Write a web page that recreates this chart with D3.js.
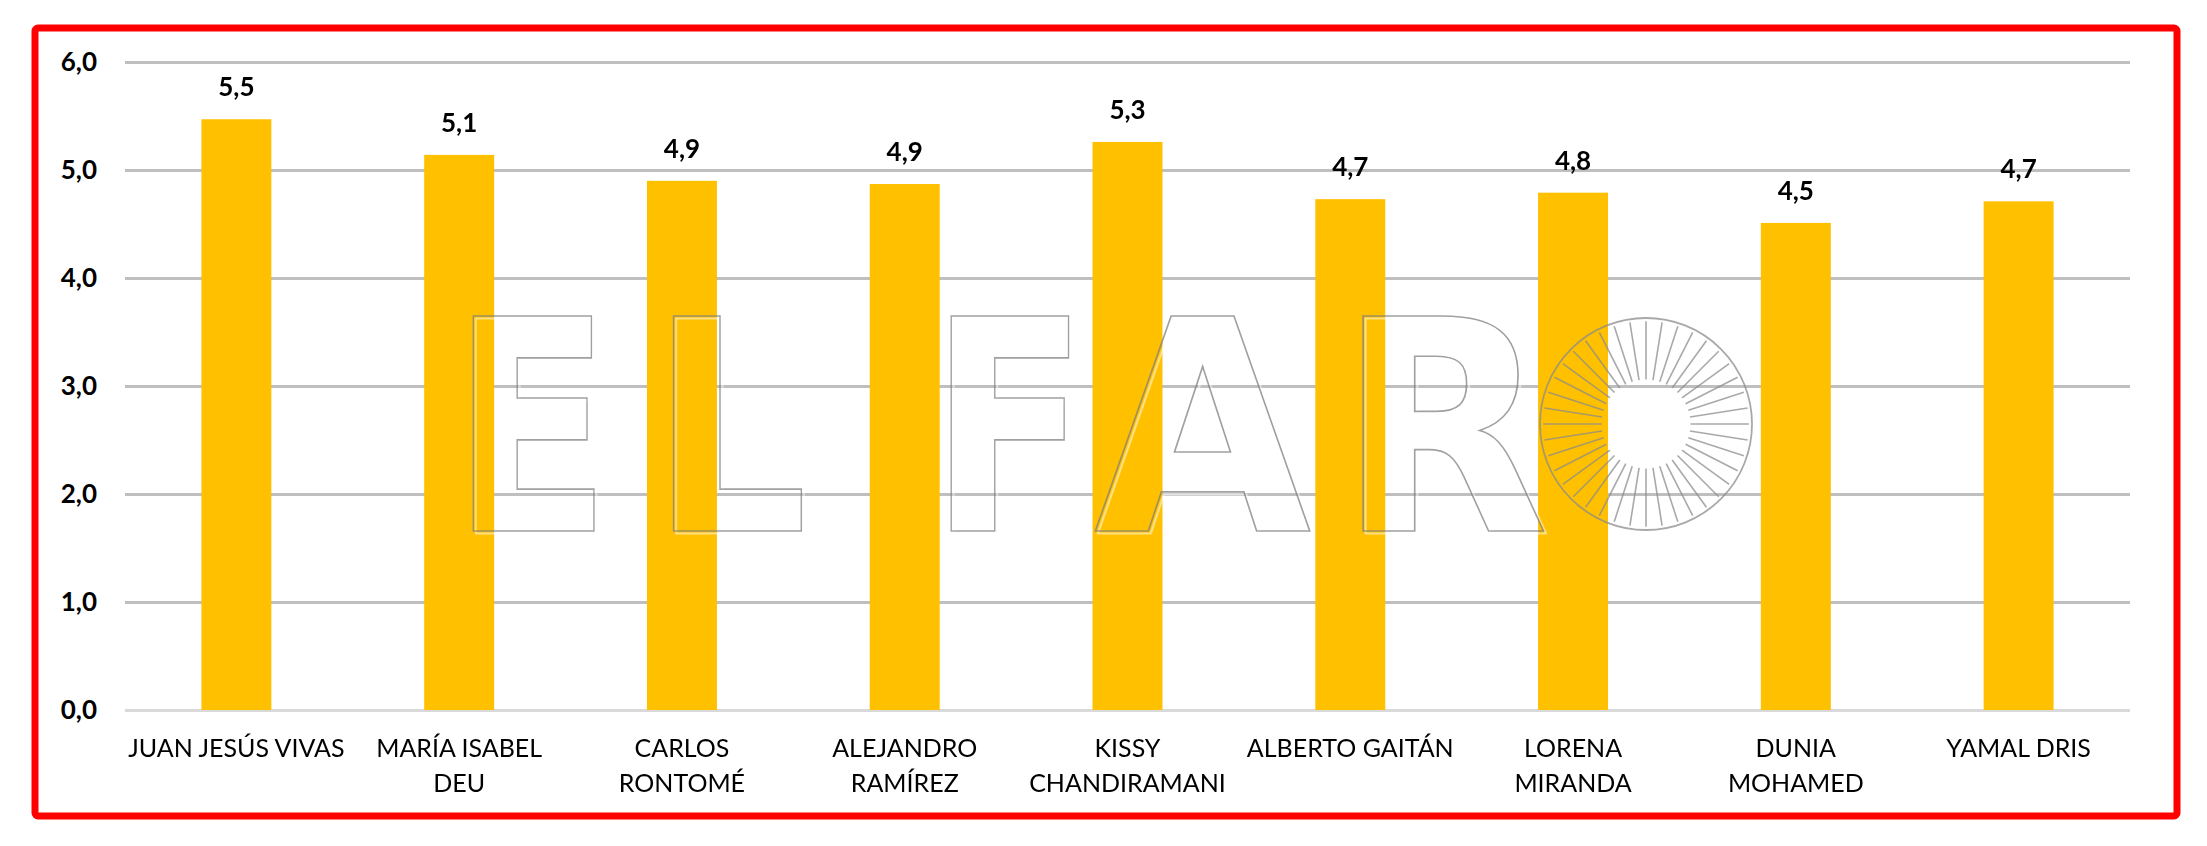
<!DOCTYPE html>
<html>
<head>
<meta charset="utf-8">
<script src="https://cdn.jsdelivr.net/npm/d3@7"></script>
<style>
  html, body { margin: 0; padding: 0; background: #ffffff; }
  svg { display: block; }
</style>
</head>
<body>
<svg id="chart" width="2207" height="846"></svg>
<script>
// ---- data ----
const categories = [
  "JUAN JESÚS VIVAS",
  "MARÍA ISABEL DEU",
  "CARLOS RONTOMÉ",
  "ALEJANDRO RAMÍREZ",
  "KISSY CHANDIRAMANI",
  "ALBERTO GAITÁN",
  "LORENA MIRANDA",
  "DUNIA MOHAMED",
  "YAMAL DRIS"
];
const categoryLines = [
  ["JUAN JESÚS VIVAS"],
  ["MARÍA ISABEL", "DEU"],
  ["CARLOS", "RONTOMÉ"],
  ["ALEJANDRO", "RAMÍREZ"],
  ["KISSY", "CHANDIRAMANI"],
  ["ALBERTO GAITÁN"],
  ["LORENA", "MIRANDA"],
  ["DUNIA", "MOHAMED"],
  ["YAMAL DRIS"]
];
const values = [5.47, 5.14, 4.90, 4.87, 5.26, 4.73, 4.79, 4.51, 4.71];
const yTicks = [0, 1, 2, 3, 4, 5, 6];
const watermarkLetters = ["E", "L", "F", "A", "R"];

// ---- layout ----
const W = 2207, H = 846;
const plotLeft = 125, plotRight = 2130, plotTop = 62, plotBottom = 710;
const svg = d3.select("#chart");
svg.append("rect").attr("width", W).attr("height", H).attr("fill", "#ffffff");

const defs = svg.append("defs");
const flt = defs.append("filter").attr("id", "wmshadow")
  .attr("x", "-5%").attr("y", "-5%").attr("width", "110%").attr("height", "110%");
flt.append("feDropShadow").attr("dx", 2.5).attr("dy", 2.5).attr("stdDeviation", 0.6)
  .attr("flood-color", "#ffffff").attr("flood-opacity", 0.9);

const locale = d3.formatLocale({ decimal: ",", thousands: ".", grouping: [3], currency: ["", "€"] });
const fmt = locale.format(".1f");

const x = d3.scaleBand().domain(categories).range([plotLeft, plotRight])
  .paddingInner(0.686).paddingOuter(0.343);
const y = d3.scaleLinear().domain([0, 6]).range([plotBottom, plotTop]);

// gridlines + y axis labels
const yAxis = d3.axisLeft(y).tickValues(yTicks).tickFormat(fmt)
  .tickSize(-(plotRight - plotLeft)).tickPadding(28);
const gy = svg.append("g").attr("transform", `translate(${plotLeft},0)`).call(yAxis);
gy.select(".domain").remove();
gy.selectAll(".tick line")
  .attr("stroke", d => d === 0 ? "#d9d9d9" : "#bfbfbf")
  .attr("stroke-width", 3);
gy.selectAll(".tick text")
  .attr("font-family", "Lato, 'Open Sans', sans-serif")
  .attr("font-size", 26).attr("font-weight", "bold").attr("fill", "#000");

// bars
svg.append("g").selectAll("rect").data(values).join("rect")
  .attr("x", (d, i) => x(categories[i]))
  .attr("y", d => y(d))
  .attr("width", x.bandwidth())
  .attr("height", d => y(0) - y(d))
  .attr("fill", "#FFC000");

// watermark "EL FARO"
const wm = svg.append("g").attr("opacity", 0.75);
const letterX = d3.scaleOrdinal().domain(watermarkLetters).range([452, 651, 930, 1094, 1338]);
const letterW = d3.scaleOrdinal().domain(watermarkLetters).range([159, 157, 158, 217, 211]);
const wmTop = 316, wmBottom = 531;
watermarkLetters.forEach(L => {
  wm.append("text")
    .attr("x", letterX(L)).attr("y", wmBottom)
    .attr("textLength", letterW(L)).attr("lengthAdjust", "spacingAndGlyphs")
    .attr("font-family", "'DejaVu Sans Condensed', 'DejaVu Sans', sans-serif")
    .attr("font-weight", "bold").attr("font-size", (wmBottom - wmTop) / 0.729)
    .attr("fill", "none").attr("stroke", "#808080").attr("stroke-width", 1.6)
    .attr("filter", "url(#wmshadow)")
    .text(L);
});
// sun "O"
const sunCx = 1646, sunCy = 424, sunR = 106;
wm.append("circle").attr("cx", sunCx).attr("cy", sunCy).attr("r", sunR)
  .attr("fill", "none").attr("stroke", "#8c8c8c").attr("stroke-width", 1.8);
const rays = d3.range(40);
wm.append("g").selectAll("line").data(rays).join("line")
  .attr("x1", d => sunCx + Math.cos(d / 40 * 2 * Math.PI) * sunR * 0.42)
  .attr("y1", d => sunCy + Math.sin(d / 40 * 2 * Math.PI) * sunR * 0.42)
  .attr("x2", d => sunCx + Math.cos(d / 40 * 2 * Math.PI) * sunR * 0.97)
  .attr("y2", d => sunCy + Math.sin(d / 40 * 2 * Math.PI) * sunR * 0.97)
  .attr("stroke", "#8c8c8c").attr("stroke-width", 1.6);

// value labels
svg.append("g").selectAll("text").data(values).join("text")
  .attr("x", (d, i) => x(categories[i]) + x.bandwidth() / 2)
  .attr("y", d => y(d) - 23)
  .attr("text-anchor", "middle")
  .attr("font-family", "Lato, 'Open Sans', sans-serif")
  .attr("font-size", 26).attr("font-weight", "bold").attr("fill", "#000")
  .text(d => fmt(d));

// category labels
const cl = svg.append("g").selectAll("text").data(categories).join("text")
  .attr("x", d => x(d) + x.bandwidth() / 2)
  .attr("y", 757)
  .attr("text-anchor", "middle")
  .attr("font-family", "Lato, 'Open Sans', sans-serif")
  .attr("font-size", 25).attr("fill", "#000");
cl.each(function (d, i) {
  const t = d3.select(this);
  categoryLines[i].forEach((line, j) => {
    t.append("tspan").attr("x", x(d) + x.bandwidth() / 2)
      .attr("dy", j === 0 ? 0 : 35).text(line);
  });
});

// red frame
svg.append("rect")
  .attr("x", 35).attr("y", 28).attr("width", 2177 - 35).attr("height", 816 - 28)
  .attr("rx", 3).attr("fill", "none").attr("stroke", "#ff0000").attr("stroke-width", 7);
</script>
</body>
</html>
